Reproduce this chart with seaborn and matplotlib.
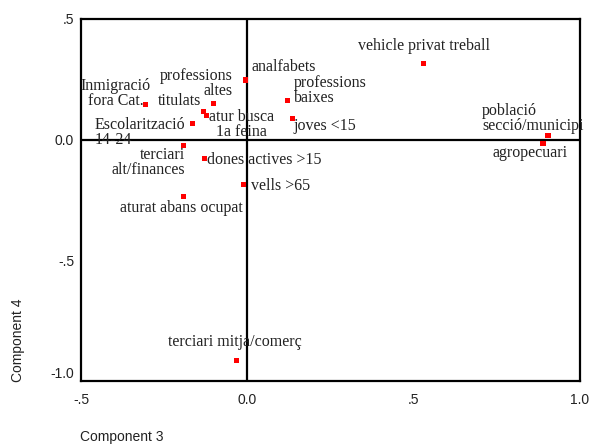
import matplotlib
matplotlib.use("Agg")
import matplotlib.pyplot as plt
import matplotlib.transforms as mtransforms
import seaborn as sns
import pandas as pd

# component loadings
labels = ["vehicle privat treball", "analfabets", "professions\nbaixes", "joves <15",
          "professions\naltes", "titulats", "atur busca\n1a feina", "Inmigració\nfora Cat.",
          "Escolarització\n14-24", "terciari\nalt/finances", "dones actives >15", "vells >65",
          "aturat abans ocupat", "terciari mitja/comerç", "població\nsecció/municipi", "agropecuari"]
comp3 = [0.529, -0.006, 0.120, 0.135, -0.102, -0.132, -0.123, -0.306,
         -0.165, -0.192, -0.129, -0.012, -0.192, -0.033, 0.904, 0.889]
comp4 = [0.315, 0.247, 0.162, 0.087, 0.149, 0.116, 0.100, 0.145,
         0.066, -0.025, -0.079, -0.187, -0.237, -0.915, 0.017, -0.017]

xticks = [-0.5, 0.0, 0.5, 1.0]
xticklabels = ["-.5", "0.0", ".5", "1.0"]
yticks = [-1.0, -0.5, 0.0, 0.5]
yticklabels = ["-1.0", "-.5", "0.0", ".5"]

# label placement: (dx px, dy px downward, ha)
label_pos = [(1, -18, "center"), (6, -13, "left"), (7, -10, "left"), (1, 7, "left"),
             (19, -20, "right"), (-2, -11, "right"), (35, 9, "center"), (-30, -11, "center"),
             (-98, 9, "left"), (2, 17, "right"), (3, 1, "left"), (8, 1, "left"),
             (-2, 11, "center"), (-1, -18, "center"), (-66, -17, "left"), (-13, 9, "center")]

df = pd.DataFrame({"label": labels, "c3": comp3, "c4": comp4})

sns.set_style("white")
plt.rcParams["font.family"] = ["Liberation Sans", "DejaVu Sans"]

fig = plt.figure(figsize=(5.95, 4.46), dpi=100)
ax = fig.add_axes([81 / 595, 1 - 381 / 446, 499 / 595, 362 / 446])

ax.axhline(0, color="black", lw=1.6, zorder=1)
ax.axvline(0, color="black", lw=1.6, zorder=1)
sns.scatterplot(data=df, x="c3", y="c4", marker="s", color="#ff0000", s=14,
                edgecolor="none", ax=ax, zorder=3)

for (lab, x, y), (dx, dy, ha) in zip(zip(labels, comp3, comp4), label_pos):
    t = ax.annotate(lab, (x, y), xytext=(dx, -dy), textcoords="offset pixels",
                    ha=ha, va="center", multialignment=ha if ha != "center" else "center",
                    fontsize=11.5, family=["Liberation Serif", "DejaVu Serif"],
                    color="#222222", linespacing=0.95, annotation_clip=False)
    t.set_clip_on(True)

ax.set_xlim(-0.5, 1.0)
ax.set_ylim(-1.0, 0.5)
ax.set_xticks(xticks)
ax.set_xticklabels(xticklabels)
ax.set_yticks(yticks)
ax.set_yticklabels(yticklabels)
ax.tick_params(direction="out", length=2, width=2, labelsize=10, pad=3,
               colors="black", labelcolor="#222222")
ax.tick_params(axis="x", pad=7)
# shift the lowest y label up a little, as in the original
off = mtransforms.ScaledTranslation(0, 9 / 100, fig.dpi_scale_trans)
lab0 = ax.get_yticklabels()[0]
lab0.set_transform(lab0.get_transform() + off)

for sp in ax.spines.values():
    sp.set_linewidth(1.6)
    sp.set_color("black")
ax.set_xlabel("")
ax.set_ylabel("")

fig.text(80 / 595, 1 - 437 / 446, "Component 3", ha="left", va="center", fontsize=10, color="#222222")
fig.text(18 / 595, 1 - 340 / 446, "Component 4", ha="center", va="center", rotation=90,
         fontsize=10, color="#222222")

fig.savefig("out.png", dpi=100)
